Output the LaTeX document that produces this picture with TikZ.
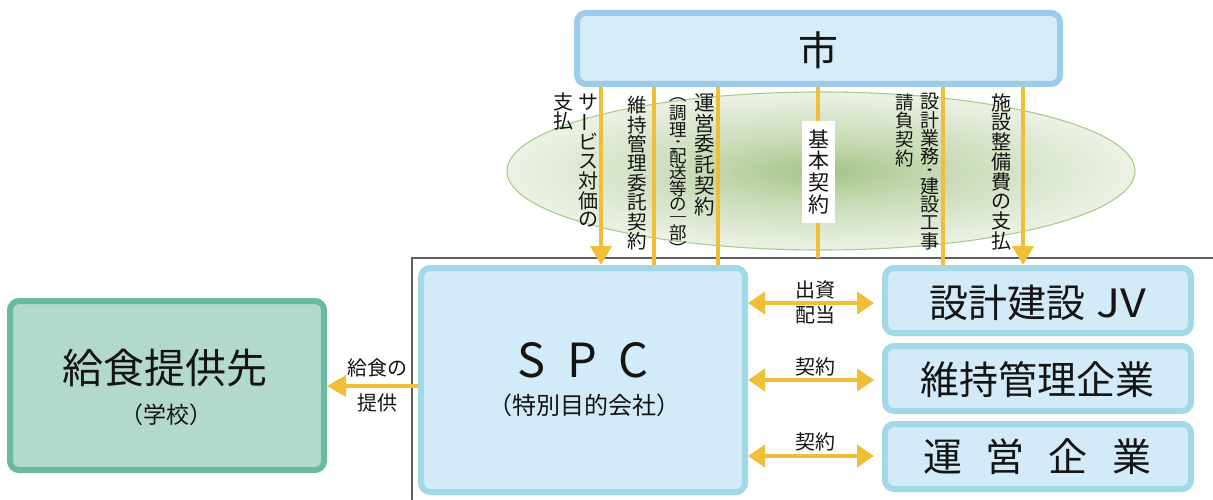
\documentclass[tikz,border=0pt]{standalone}
\usepackage{fontspec}
\setmainfont{Noto Sans CJK JP}
\usepackage{graphicx}
\usetikzlibrary{arrows.meta,calc}
\definecolor{orng}{RGB}{240,190,55}
\definecolor{citybd}{RGB}{158,203,235}
\definecolor{cityfill}{RGB}{214,236,249}
\definecolor{spcbd}{RGB}{163,216,230}
\definecolor{spcfill}{RGB}{211,235,248}
\definecolor{grnbd}{RGB}{102,187,160}
\definecolor{grnfill}{RGB}{178,217,202}
\definecolor{ellbd}{RGB}{168,204,138}
\definecolor{ellg}{RGB}{165,195,135}
\definecolor{ellgb}{RGB}{200,219,182}
\definecolor{ellgc}{RGB}{234,241,227}
\definecolor{framegray}{RGB}{95,95,95}
\definecolor{txt}{RGB}{20,20,20}
\pgfdeclareradialshading{ellshade}{\pgfpoint{0bp}{0bp}}{color(0bp)=(ellg); color(10bp)=(ellgb); color(24bp)=(ellgc); color(36bp)=(white); color(50bp)=(white)}
\newcommand\vbar{\rotatebox[origin=c]{90}{ー}}
\newcommand\vlp{\rotatebox[origin=c]{-90}{\hbox to .5em{\hss（}}}
\newcommand\vrp{\rotatebox[origin=c]{-90}{\hbox to .5em{）\hss}}}
\newcommand\vdot[1]{\scalebox{1}[#1]{・}}
\newcommand\vone[1]{\scalebox{1}[#1]{一}}
\newcommand\vg[2]{\hbox to 24pt{\hss\vbox to #1{\vss\hbox{#2}\vss}\hss}}
\makeatletter
\newcommand\vcol[2]{\vbox{\offinterlineskip\@tfor\vc@c:=#2\do{\vg{#1}{\vc@c}}}}
\makeatother
\begin{document}
\begin{tikzpicture}[x=1pt,y=-1pt,
  citybox/.style={draw=citybd,fill=cityfill,line width=6pt,rounded corners=9pt,inner sep=0pt},
  spcbox/.style={draw=spcbd,fill=spcfill,line width=6pt,rounded corners=9pt,inner sep=0pt},
  grnbox/.style={draw=grnbd,fill=grnfill,line width=6pt,rounded corners=9pt,inner sep=0pt},
  oline/.style={draw=orng,line width=4pt},
  oarr/.style={draw=orng,line width=4pt,-{Triangle[width=21pt,length=19pt]},color=orng},
  darr/.style={draw=orng,line width=4pt,{Triangle[width=22pt,length=17pt]}-{Triangle[width=22pt,length=17pt]},color=orng},
  vlab/.style={inner sep=0pt,anchor=north,text=txt,font={\fontsize{20}{20}\selectfont}},
  hlab/.style={inner sep=0pt,align=center,text=txt,font={\fontsize{20}{25}\selectfont}},
  btxt/.style={inner sep=0pt,text=txt}]
\useasboundingbox (0,0) rectangle (1213,500);
% frame
\coordinate (frameTop) at (412,258);
\coordinate (frameEnd) at (1213,258);
\coordinate (frameBot) at (412,500);
\draw[framegray,line width=1.5pt] (frameBot) -- (frameTop) -- (frameEnd);
% ellipse
\path[shade,shading=ellshade,draw=ellbd,line width=1.1pt] (821,171) ellipse [x radius=314pt, y radius=79pt];
% boxes
\node[citybox,minimum width=483pt,minimum height=71pt] (city) at (818.5,48.5) {};
\node[spcbox,minimum width=324pt,minimum height=224pt] (spc) at (583,380) {};
\node[grnbox,minimum width=314pt,minimum height=169pt] (green) at (167,385.5) {};
\node[spcbox,minimum width=306pt,minimum height=65pt] (jv) at (1038,300.5) {};
\node[spcbox,minimum width=306pt,minimum height=65pt] (ijk) at (1038,378.5) {};
\node[spcbox,minimum width=306pt,minimum height=65pt] (unei) at (1038,456.5) {};
% box texts
\node[btxt,font={\fontsize{40}{44}\selectfont}] (cityT) at (818,50) {市};
\node[btxt,font={\fontsize{47}{50}\selectfont}] (spcT) at (583,360.5) {S\hspace{22pt}P\hspace{22pt}C};
\node[btxt,font={\fontsize{24}{26}\selectfont}] (spcS) at (584,405) {（特別目的会社）};
\node[btxt,font={\fontsize{41}{44}\selectfont}] (greenT) at (165,368) {給食提供先};
\node[btxt,font={\fontsize{23}{25}\selectfont}] (greenS) at (166,415) {（学校）};
\node[btxt,font={\fontsize{39}{42}\selectfont}] (jvT) at (1038,303) {設計建設\hspace{11pt}\scalebox{1.15}[1]{JV}};
\node[btxt,font={\fontsize{39}{42}\selectfont}] (ijkT) at (1037.5,380) {維持管理企業};
\node[btxt,font={\fontsize{39}{42}\selectfont}] (uneiT) at (1037,457) {運\hspace{24pt}営\hspace{24pt}企\hspace{24pt}業};
% vertical connectors
\coordinate (v1) at (601,0);
\coordinate (v2) at (654,0);
\coordinate (v3) at (718,0);
\coordinate (v4) at (818,0);
\coordinate (v5) at (943,0);
\coordinate (v6) at (1023,0);
\draw[oarr] (city.south -| v1) -- (spc.north -| v1);
\draw[oline] (city.south -| v2) -- (spc.north -| v2);
\draw[oline] (city.south -| v3) -- (spc.north -| v3);
\draw[oline] (city.south -| v4) -- (frameTop -| v4);
\draw[oline] (city.south -| v5) -- (jv.north -| v5);
\draw[oarr] (city.south -| v6) -- (jv.north -| v6);
% horizontal connectors
\coordinate (h0) at (0,386);
\coordinate (h1) at (0,303);
\coordinate (h2) at (0,380);
\coordinate (h3) at (0,456);
\draw[oarr] (spc.west |- h0) -- (green.east |- h0);
\draw[darr,shorten >=8pt] (spc.east |- h1) -- (jv.west |- h1);
\draw[darr,shorten >=8pt] (spc.east |- h2) -- (ijk.west |- h2);
\draw[darr,shorten >=8pt] (spc.east |- h3) -- (unei.west |- h3);
% vertical labels
\node[vlab] (lServ) at (588,92.5) {\vcol{19.6pt}{サ\vbar ビス対価の}};
\node[vlab] (lShi) at (563.5,92.5) {\vcol{19pt}{支払}};
\node[vlab,font={\fontsize{19.5}{19.5}\selectfont}] (lIji) at (637,95.5) {\vcol{19.4pt}{維持管理委託契約}};
\node[vlab,font={\fontsize{17.5}{17.5}\selectfont}] (lChou) at (678,95) {\vbox{\offinterlineskip
  \vg{10pt}{\vlp}\vg{16.3pt}{調}\vg{16.3pt}{理}\vg{10pt}{\vdot{0.55}}\vg{16.3pt}{配}\vg{16.3pt}{送}\vg{16.3pt}{等}\vg{16.3pt}{の}\vg{12pt}{\vone{0.65}}\vg{16.3pt}{部}\vg{10pt}{\vrp}}};
\node[vlab,font={\fontsize{20.5}{20.5}\selectfont}] (lUnei) at (705,92) {\vcol{20.8pt}{運営委託契約}};
\node[fill=white,minimum width=33pt,minimum height=101pt,inner sep=0pt] (kihonBg) at (818.5,172) {};
\node[btxt,font={\fontsize{21}{21}\selectfont}] (lKihon) at (818.5,171.5) {\vcol{21.7pt}{基本契約}};
\node[vlab,font={\fontsize{18.5}{18.5}\selectfont}] (lUke) at (905,92.5) {\vcol{18.75pt}{請負契約}};
\node[vlab,font={\fontsize{19}{19}\selectfont}] (lSekkei) at (929.5,92.5) {\vbox{\offinterlineskip
  \vg{18.2pt}{設}\vg{18.2pt}{計}\vg{18.2pt}{業}\vg{18.2pt}{務}\vg{12pt}{\vdot{0.6}}\vg{18.2pt}{建}\vg{18.2pt}{設}\vg{18.2pt}{工}\vg{18.2pt}{事}}};
\node[vlab] (lShisetsu) at (1001,92.5) {\vcol{19.75pt}{施設整備費の支払}};
% horizontal labels
\node[hlab] (lDe) at (815,302.5) {出資\\配当};
\node[hlab] (lK1) at (815,367) {契約};
\node[hlab] (lK2) at (815,442) {契約};
\node[hlab,font={\fontsize{20}{35}\selectfont}] (lKyu) at (377,385.5) {給食の\\提供};
\end{tikzpicture}
\end{document}
